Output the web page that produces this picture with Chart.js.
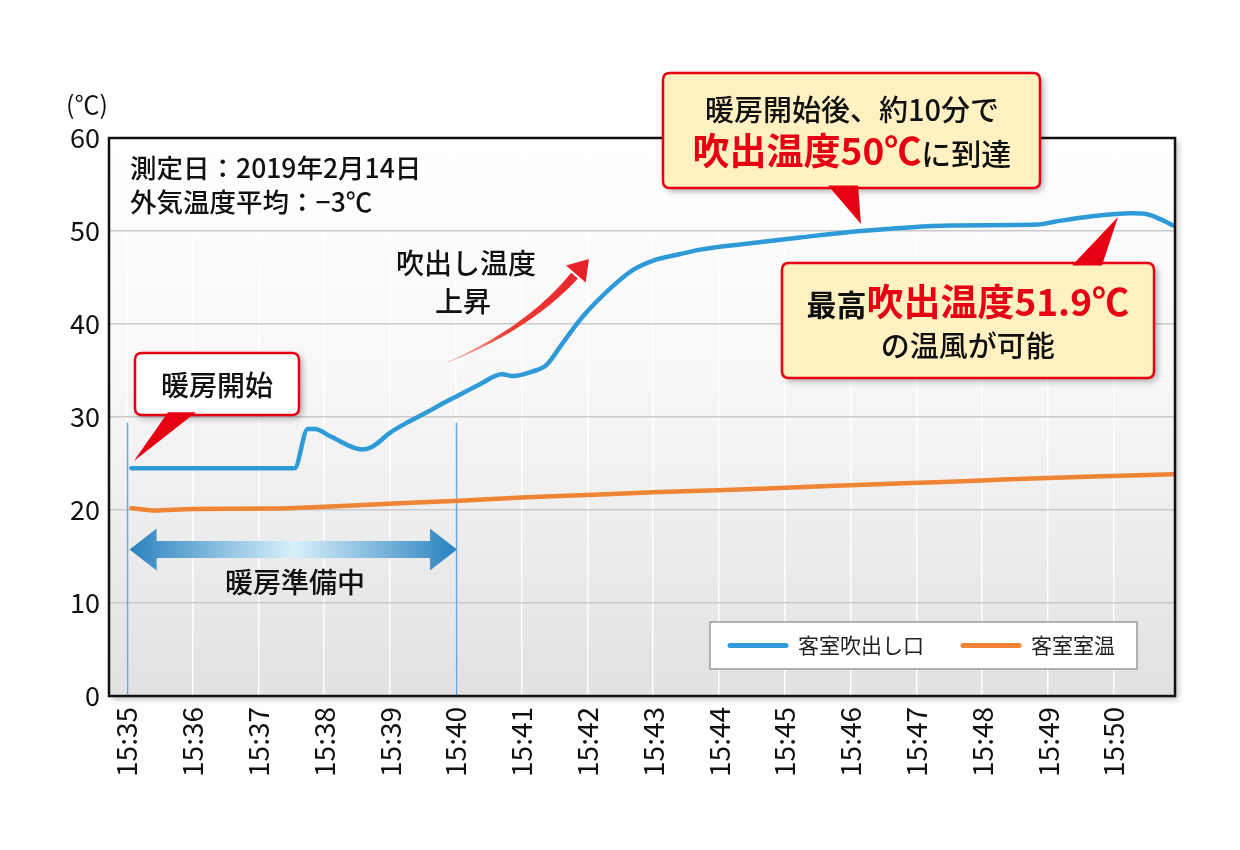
<!DOCTYPE html>
<html><head><meta charset="utf-8">
<script src="https://cdn.jsdelivr.net/npm/chart.js@4.4.1/dist/chart.umd.min.js"></script>
<style>html,body{margin:0;padding:0;background:#fff;}canvas{display:block;}</style>
</head><body>
<canvas id="c" width="1240" height="850"></canvas>
<script>
// ---- data ----
const tickLabels = ['15:35','15:36','15:37','15:38','15:39','15:40','15:41','15:42','15:43','15:44','15:45','15:46','15:47','15:48','15:49','15:50'];
const yTickValues = [0,10,20,30,40,50,60];
const seriesNames = ['客室吹出し口','客室室温'];
const seriesColors = ['#2f9ad8','#ee8434'];
// minutes after 15:35
const supplyMinutes = [0.07,2.55,2.75,2.86,3.1,3.58,3.73,4.0,4.26,4.56,4.76,5.06,5.36,5.70,5.87,6.17,6.38,6.63,6.93,7.39,7.69,7.99,8.40,8.71,9.38,10.23,11.16,12.52,13.84,14.10,14.64,15.26,15.47,15.70,15.90];
const supplyTemps   = [24.5,24.5,28.7,28.7,27.9,26.5,26.8,28.3,29.4,30.5,31.3,32.4,33.5,34.6,34.4,34.9,35.6,38.0,40.8,44.1,45.8,46.8,47.5,48.0,48.6,49.3,50.0,50.6,50.7,51.0,51.55,51.9,51.85,51.3,50.6];
const roomMinutes = [0.07,0.4,1.0,2.2,3.0,3.9,5.06,6.0,7.0,8.0,9.1,10.2,11.3,12.4,13.4,14.7,15.9];
const roomTemps   = [20.2,19.95,20.1,20.15,20.35,20.65,21.0,21.35,21.6,21.9,22.15,22.45,22.75,23.0,23.3,23.6,23.85];
const prepMarkers = [0,5];          // 15:35 and 15:40
const infoLines = ['測定日：2019年2月14日','外気温度平均：−3℃'];
const unitLabel = '(℃)';

const FONT = "'Noto Sans CJK JP','Noto Sans',sans-serif";
Chart.defaults.font.family = FONT;
const RED = '#e60012';

function rr(ctx,x,y,w,h,r){ctx.beginPath();ctx.moveTo(x+r,y);ctx.lineTo(x+w-r,y);ctx.quadraticCurveTo(x+w,y,x+w,y+r);ctx.lineTo(x+w,y+h-r);ctx.quadraticCurveTo(x+w,y+h,x+w-r,y+h);ctx.lineTo(x+r,y+h);ctx.quadraticCurveTo(x,y+h,x,y+h-r);ctx.lineTo(x,y+r);ctx.quadraticCurveTo(x,y,x+r,y);ctx.closePath();}

function runs(ctx, list, cx, cy){
  let total=0, maxS=0;
  list.forEach(r=>{ctx.font=r.font; r.w=ctx.measureText(r.text).width; total+=r.w; maxS=Math.max(maxS,r.size);});
  let x=cx-total/2; ctx.textAlign='left'; ctx.textBaseline='alphabetic';
  list.forEach(r=>{ctx.font=r.font; ctx.fillStyle=r.color; ctx.fillText(r.text,x,cy+maxS*0.36); x+=r.w;});
}
function R(text,size,color,weight){return {text,size,color,font:(weight||'500')+' '+size+'px '+FONT};}

function callout(c, P, o){
  const ctx=c.ctx;
  const [x0,y0]=P(o.box[0],o.box[1]); const [x1,y1]=P(o.box[2],o.box[3]);
  ctx.save();
  ctx.shadowColor='rgba(0,0,0,0.35)'; ctx.shadowBlur=7; ctx.shadowOffsetX=3; ctx.shadowOffsetY=3;
  rr(ctx,x0,y0,x1-x0,y1-y0,7); ctx.fillStyle=o.fill; ctx.fill();
  ctx.restore();
  ctx.save();
  rr(ctx,x0,y0,x1-x0,y1-y0,7); ctx.lineWidth=2.5; ctx.strokeStyle=RED; ctx.stroke();
  const p=o.pointer.map(q=>P(q[0],q[1]));
  ctx.beginPath(); ctx.moveTo(p[0][0],p[0][1]); ctx.lineTo(p[2][0],p[2][1]); ctx.lineTo(p[1][0],p[1][1]); ctx.closePath();
  ctx.fillStyle=RED; ctx.fill();
  o.lines.forEach(l=>{const [cx,cy]=P(l.at[0],l.at[1]); runs(ctx,l.runs,cx,cy);});
  ctx.restore();
}

const bgPlugin={id:'bg',beforeDraw(c){
  const {ctx,chartArea:a}=c; ctx.save();
  ctx.shadowColor='rgba(0,0,0,0.28)'; ctx.shadowBlur=6; ctx.shadowOffsetX=3; ctx.shadowOffsetY=3;
  const g=ctx.createLinearGradient(0,a.top,0,a.bottom);
  g.addColorStop(0,'#ffffff'); g.addColorStop(0.45,'#f7f7f7'); g.addColorStop(1,'#e1e1e1');
  ctx.fillStyle=g; ctx.fillRect(a.left,a.top,a.right-a.left,a.bottom-a.top); ctx.restore();
},
beforeDatasetsDraw(c){
  const {ctx,scales:{x,y}}=c; ctx.save(); ctx.strokeStyle='#6ba7d9'; ctx.lineWidth=1.6;
  prepMarkers.forEach(m=>{const px=Math.round(x.getPixelForValue(m))+0.5; ctx.beginPath(); ctx.moveTo(px,y.getPixelForValue(29.4)); ctx.lineTo(px,y.getPixelForValue(0)); ctx.stroke();});
  ctx.restore();
},
afterDatasetsDraw(c){
  const {ctx,chartArea:a}=c; ctx.save(); ctx.strokeStyle='#111'; ctx.lineWidth=2.5;
  ctx.strokeRect(a.left,a.top,a.right-a.left,a.bottom-a.top); ctx.restore();
}};

const overlayPlugin={id:'overlay',afterDraw(c){
  const {ctx,chartArea:a,scales:{x,y}}=c;
  const P=(m,v)=>[x.getPixelForValue(m),y.getPixelForValue(v)];
  ctx.save();
  // unit
  ctx.font='25px '+FONT; ctx.fillStyle='#111'; ctx.textAlign='right'; ctx.textBaseline='middle';
  ctx.fillText(unitLabel,a.left-1,y.getPixelForValue(63.6));
  // info
  ctx.font='500 26.5px '+FONT; ctx.textAlign='left';
  infoLines.forEach((t,i)=>{const [px,py]=P(0.05,[56.77,53.12][i]); ctx.fillText(t,px,py);});
  // rise text
  ctx.font='500 28px '+FONT; ctx.textAlign='center';
  let q=P(5.157,46.56); ctx.fillText('吹出し温度',q[0],q[1]);
  q=P(5.111,42.47); ctx.fillText('上昇',q[0],q[1]);
  // red curved arrow
  const t0=P(4.881,35.91), tip=P(7.024,46.99), cp=P(6.114,39.57);
  const dx=tip[0]-cp[0], dy=tip[1]-cp[1], dl=Math.hypot(dx,dy); const ux=dx/dl, uy=dy/dl;
  const hb=[tip[0]-ux*22, tip[1]-uy*22];
  const N=40, left=[], right=[];
  for(let i=0;i<=N;i++){const t=i/N; const bx=(1-t)*(1-t)*t0[0]+2*(1-t)*t*cp[0]+t*t*hb[0]; const by=(1-t)*(1-t)*t0[1]+2*(1-t)*t*cp[1]+t*t*hb[1];
    const tx=2*(1-t)*(cp[0]-t0[0])+2*t*(hb[0]-cp[0]); const ty=2*(1-t)*(cp[1]-t0[1])+2*t*(hb[1]-cp[1]); const tl=Math.hypot(tx,ty);
    const nx=-ty/tl, ny=tx/tl; const w=0.4+4.0*Math.pow(t,1.1);
    left.push([bx+nx*w,by+ny*w]); right.push([bx-nx*w,by-ny*w]);}
  const ag=ctx.createLinearGradient(t0[0],t0[1],tip[0],tip[1]);
  ag.addColorStop(0,'rgba(245,120,100,0.45)'); ag.addColorStop(0.35,'#ee3f33'); ag.addColorStop(1,'#e8202a');
  ctx.fillStyle=ag; ctx.beginPath(); left.forEach((p,i)=>i?ctx.lineTo(p[0],p[1]):ctx.moveTo(p[0],p[1]));
  for(let i=right.length-1;i>=0;i--) ctx.lineTo(right[i][0],right[i][1]); ctx.closePath(); ctx.fill();
  ctx.beginPath(); ctx.moveTo(tip[0],tip[1]); ctx.lineTo(hb[0]-uy*13+ux*2,hb[1]+ux*13+uy*2); ctx.lineTo(hb[0]+uy*13+ux*2,hb[1]-ux*13+uy*2); ctx.closePath(); ctx.fillStyle='#e8202a'; ctx.fill();
  // double arrow
  const L=P(0.043,15.75), Rr=P(5.018,15.75); const cy=L[1];
  const dg=ctx.createLinearGradient(L[0],0,Rr[0],0);
  dg.addColorStop(0,'#2a82bf'); dg.addColorStop(0.5,'#d8f0fb'); dg.addColorStop(1,'#2a82bf');
  ctx.fillStyle=dg; ctx.beginPath();
  ctx.moveTo(L[0],cy); ctx.lineTo(L[0]+27,cy-21); ctx.lineTo(L[0]+27,cy-8.5); ctx.lineTo(Rr[0]-27,cy-8.5); ctx.lineTo(Rr[0]-27,cy-21);
  ctx.lineTo(Rr[0],cy); ctx.lineTo(Rr[0]-27,cy+21); ctx.lineTo(Rr[0]-27,cy+8.5); ctx.lineTo(L[0]+27,cy+8.5); ctx.lineTo(L[0]+27,cy+21); ctx.closePath(); ctx.fill();
  ctx.fillStyle='#111'; ctx.font='500 28px '+FONT; ctx.textAlign='center'; ctx.textBaseline='middle';
  q=P(2.556,12.26); ctx.fillText('暖房準備中',q[0],q[1]);
  ctx.restore();
  // callouts
  callout(c,P,{box:[0.125,36.88,2.617,30.22],fill:'#ffffff',pointer:[[0.626,30.5],[1.052,30.5],[0.109,25.27]],
    lines:[{at:[1.371,33.33],runs:[R('暖房開始',28,'#111')]}]});
  callout(c,P,{box:[8.149,66.99,13.878,54.62],fill:'#fff1c2',pointer:[[10.657,54.9],[11.113,54.9],[11.158,50.75]],
    lines:[{at:[11.02,63.0],runs:[R('暖房開始後、約10分で',29,'#111')]},
           {at:[11.02,58.49],runs:[R('吹出温度50℃',37,RED,'bold'),R('に到達',30,'#111')]}]});
  callout(c,P,{box:[9.957,46.56,15.611,34.19],fill:'#fff1c2',pointer:[[14.365,46.3],[14.82,46.3],[15.063,51.51]],
    lines:[{at:[12.78,42.26],runs:[R('最高',30,'#111','bold'),R('吹出温度51.9℃',37,RED,'bold')]},
           {at:[12.78,37.53],runs:[R('の温風が可能',29,'#111')]}]});
  // legend
  ctx.save();
  const lx0=a.right-465, ly0=a.bottom-74, lw=427, lh=47;
  ctx.fillStyle='#fff'; ctx.fillRect(lx0,ly0,lw,lh); ctx.strokeStyle='#9a9a9a'; ctx.lineWidth=1.5; ctx.strokeRect(lx0,ly0,lw,lh);
  ctx.font='21px '+FONT; ctx.textBaseline='middle'; ctx.textAlign='left';
  let lx=lx0+20; const lyc=ly0+lh/2;
  c.data.datasets.forEach(ds=>{ctx.strokeStyle=ds.borderColor; ctx.lineWidth=5; ctx.lineCap='round'; ctx.beginPath(); ctx.moveTo(lx,lyc); ctx.lineTo(lx+56,lyc); ctx.stroke();
    ctx.fillStyle='#222'; ctx.fillText(ds.label,lx+68,lyc); lx+=68+ctx.measureText(ds.label).width+39;});
  ctx.restore();
}};

const chart=new Chart(document.getElementById('c'),{
  type:'line',
  data:{datasets:[
    {label:seriesNames[0],data:supplyMinutes.map((m,i)=>({x:m,y:supplyTemps[i]})),borderColor:seriesColors[0],borderWidth:4.5,pointRadius:0,cubicInterpolationMode:'monotone',borderCapStyle:'round',borderJoinStyle:'round'},
    {label:seriesNames[1],data:roomMinutes.map((m,i)=>({x:m,y:roomTemps[i]})),borderColor:seriesColors[1],borderWidth:4.5,pointRadius:0,cubicInterpolationMode:'monotone',borderCapStyle:'round',borderJoinStyle:'round'}
  ]},
  options:{responsive:false,animation:false,devicePixelRatio:1,
    layout:{padding:{top:138,right:65,left:0,bottom:0}},
    plugins:{legend:{display:false},tooltip:{enabled:false}},
    scales:{
      x:{type:'linear',min:-0.27,max:15.93,
        afterBuildTicks:s=>{s.ticks=tickLabels.map((_,i)=>({value:i}));},
        afterFit:s=>{s.height=154;},
        ticks:{autoSkip:false,maxRotation:90,minRotation:90,padding:11,color:'#111',font:{size:28},callback:(v,i)=>tickLabels[i]},
        grid:{color:'rgba(255,255,255,0.95)',lineWidth:1.5,drawTicks:false},border:{display:false}},
      y:{min:0,max:60,
        afterBuildTicks:s=>{s.ticks=yTickValues.map(v=>({value:v}));},
        afterFit:s=>{s.width=109;},
        ticks:{padding:9,color:'#111',font:{size:27}},
        grid:{color:c=>(c.tick&&(c.tick.value===0||c.tick.value===60))?'rgba(0,0,0,0)':'#c9c9c9',lineWidth:1.5,drawTicks:false},border:{display:false}}
    }},
  plugins:[bgPlugin,overlayPlugin]
});
// pin chart area to the reference frame
const ca=chart.chartArea, pad=chart.options.layout.padding;
const dTop=138-ca.top, dRight=ca.right-1175, dBottom=ca.bottom-696;
if(dTop||dRight||dBottom){pad.top+=dTop; pad.right+=dRight; pad.bottom+=dBottom; chart.update();}
</script>
</body></html>
